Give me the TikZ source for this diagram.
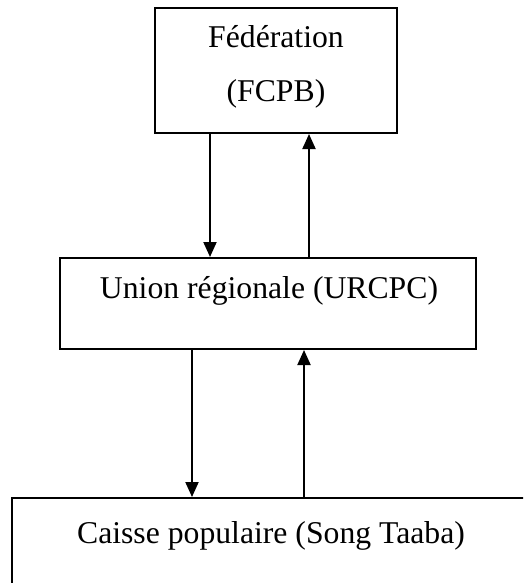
\documentclass[tikz,border=0pt]{standalone}
\usepackage{fontspec}
\setmainfont{Liberation Serif}
\usetikzlibrary{arrows.meta}
\begin{document}
\begin{tikzpicture}[x=1pt,y=-1pt,
  boxstyle/.style={draw=black,line width=2pt,rectangle,inner sep=0pt},
  txt/.style={anchor=base,inner sep=0pt,font=\fontsize{31.7}{38}\selectfont},
  arr/.style={line width=2pt,-{Triangle[length=15pt,width=13pt]}}]
\useasboundingbox[fill=white] (0,0) rectangle (523,583);
\clip (0,0) rectangle (523,583);
\node[boxstyle,minimum width=242pt,minimum height=125pt] (fed) at (276,70.5) {};
\node[boxstyle,minimum width=416pt,minimum height=91pt] (uni) at (268,303.5) {};
\node[boxstyle,minimum width=518pt,minimum height=110pt] (cai) at (271,553) {};
\node[txt] (fedA) at (276,48) {Fédération};
\node[txt] (fedB) at (276,102) {(FCPB)};
\node[txt] (uniT) at (269,298) {Union régionale (URCPC)};
\node[txt] (caiT) at (271,543) {Caisse populaire (Song Taaba)};
\coordinate (a1) at (210,0);
\coordinate (a2) at (309,0);
\coordinate (a3) at (192,0);
\coordinate (a4) at (304,0);
\draw[arr] (fed.south -| a1) -- (uni.north -| a1);
\draw[arr] (uni.north -| a2) -- (fed.south -| a2);
\draw[arr] (uni.south -| a3) -- (cai.north -| a3);
\draw[arr] (cai.north -| a4) -- (uni.south -| a4);
\end{tikzpicture}
\end{document}
